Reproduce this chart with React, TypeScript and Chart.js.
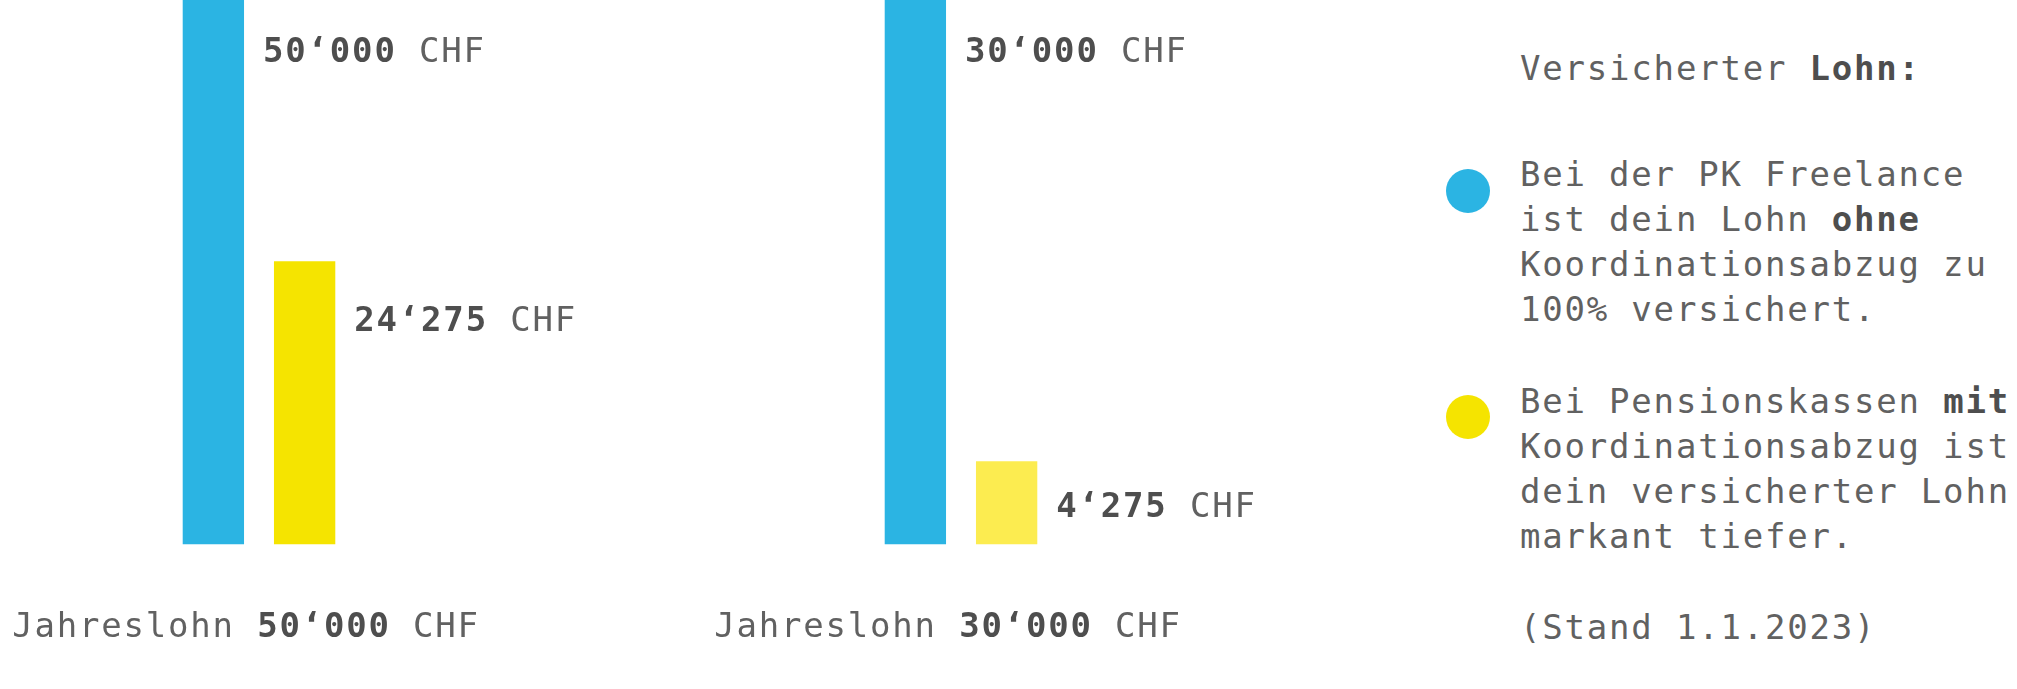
import React, { useEffect, useRef } from "react";
import { Chart, registerables } from "chart.js";

Chart.register(...registerables);

// ---- data ----
const panelNames = ["Jahreslohn", "Jahreslohn"];
const annualSalary = [50000, 30000];
const insuredPKFreelance = [50000, 30000];
const insuredWithCoordination = [24275, 4275];
const currencyLabel = "CHF";

const BLUE = "#2bb4e3";
const YELLOWS = ["#f5e400", "#fcec50"];
const TEXT = "#616161";
const TEXT_BOLD = "#4e4e4e";
const FONT_FAMILY = '"DejaVu Sans Mono", monospace';
const FONT_SIZE = 34;
const LETTER_SPACING = "1.8px";

function fmt(v: number): string {
  return String(Math.round(v)).replace(/\B(?=(\d{3})+(?!\d))/g, "\u2018");
}

type Seg = [string, boolean];

function drawRich(ctx: CanvasRenderingContext2D, segs: Seg[], x: number, y: number, align: "left" | "center") {
  const widths = segs.map(([t, b]) => {
    ctx.font = `${b ? "bold " : ""}${FONT_SIZE}px ${FONT_FAMILY}`;
    return ctx.measureText(t).width;
  });
  const total = widths.reduce((a, b) => a + b, 0);
  let cx = align === "center" ? x - total / 2 : x;
  ctx.textAlign = "left";
  ctx.textBaseline = "alphabetic";
  segs.forEach(([t, b], i) => {
    ctx.font = `${b ? "bold " : ""}${FONT_SIZE}px ${FONT_FAMILY}`;
    ctx.fillStyle = b ? TEXT_BOLD : TEXT;
    ctx.fillText(t, cx, y);
    cx += widths[i];
  });
}

const labelPlugin = {
  id: "richLabels",
  afterDatasetsDraw(chart: any) {
    const ctx: CanvasRenderingContext2D = chart.ctx;
    const area = chart.chartArea;
    const idx: number = chart.options.plugins.richLabels.panel;
    ctx.save();
    try {
      (ctx as any).letterSpacing = LETTER_SPACING;
    } catch (e) {}
    chart.data.datasets.forEach((ds: any, di: number) => {
      const meta = chart.getDatasetMeta(di);
      meta.data.forEach((bar: any, i: number) => {
        const v = ds.data[i];
        const p = bar.getProps(["x", "y", "base", "width"], true);
        const right = p.x + p.width / 2;
        let by = p.y + 70;
        by = Math.max(by, area.top + 101);
        by = Math.min(by, p.base - 28);
        drawRich(ctx, [[fmt(v), true], [" " + currencyLabel, false]], right + 19, by, "left");
      });
    });
    const xs = chart.scales.x;
    chart.data.labels.forEach((_: any, i: number) => {
      const cx = xs.getPixelForValue(i);
      drawRich(
        ctx,
        [
          [panelNames[idx] + " ", false],
          [fmt(annualSalary[idx]), true],
          [" " + currencyLabel, false],
        ],
        cx - 13,
        area.bottom + 92.5,
        "center"
      );
    });
    ctx.restore();
  },
};

function Panel({ index, left }: { index: number; left: number }) {
  const ref = useRef<HTMLCanvasElement | null>(null);
  useEffect(() => {
    if (!ref.current) return;
    const chart = new Chart(ref.current, {
      type: "bar",
      data: {
        labels: [panelNames[index] + " " + fmt(annualSalary[index]) + " " + currencyLabel],
        datasets: [
          {
            label: "PK Freelance",
            data: [insuredPKFreelance[index]],
            backgroundColor: BLUE,
            borderWidth: 0,
          },
          {
            label: "Mit Koordinationsabzug",
            data: [insuredWithCoordination[index]],
            backgroundColor: YELLOWS[index],
            borderWidth: 0,
          },
        ],
      },
      options: {
        animation: false,
        responsive: true,
        maintainAspectRatio: false,
        events: [],
        layout: { padding: { left: 0, right: 180, top: 21, bottom: 144.5 } },
        datasets: { bar: { categoryPercentage: 0.351, barPercentage: 0.672 } },
        scales: {
          x: { display: false, grid: { display: false } },
          y: {
            display: false,
            min: 0,
            max: Math.max(insuredPKFreelance[index], insuredWithCoordination[index]),
            grid: { display: false },
          },
        },
        plugins: {
          legend: { display: false },
          tooltip: { enabled: false },
          title: { display: false },
          richLabels: { panel: index },
        } as any,
      },
      plugins: [labelPlugin],
    });
    return () => chart.destroy();
  }, [index]);
  return (
    <div style={{ position: "absolute", left, top: -60, width: 700, height: 749 }}>
      <canvas ref={ref} />
    </div>
  );
}

const textStyle: React.CSSProperties = {
  position: "absolute",
  left: 1520,
  fontFamily: FONT_FAMILY,
  fontSize: FONT_SIZE,
  letterSpacing: LETTER_SPACING,
  lineHeight: "45px",
  color: TEXT,
  whiteSpace: "pre",
  margin: 0,
};
const bold: React.CSSProperties = { fontWeight: "bold", color: TEXT_BOLD };

function Dot({ color, cy }: { color: string; cy: number }) {
  return (
    <div
      style={{
        position: "absolute",
        left: 1468 - 22,
        top: cy - 22,
        width: 44,
        height: 44,
        borderRadius: "50%",
        background: color,
      }}
    />
  );
}

export default function App() {
  useEffect(() => {
    document.body.style.margin = "0";
    document.body.style.overflow = "hidden";
    document.body.style.background = "#ffffff";
  }, []);
  return (
    <div style={{ position: "relative", width: 2017, height: 689, overflow: "hidden", background: "#fff" }}>
      <Panel index={0} left={-1} />
      <Panel index={1} left={701.4} />
      <div style={{ ...textStyle, top: 46 }}>
        Versicherter <span style={bold}>Lohn:</span>
      </div>
      <Dot color={BLUE} cy={191} />
      <div style={{ ...textStyle, top: 152.4 }}>
        Bei der PK Freelance{"\n"}ist dein Lohn <span style={bold}>ohne</span>{"\n"}Koordinationsabzug zu{"\n"}100% versichert.
      </div>
      <Dot color={YELLOWS[0]} cy={416.7} />
      <div style={{ ...textStyle, top: 379 }}>
        Bei Pensionskassen <span style={bold}>mit</span>{"\n"}Koordinationsabzug ist{"\n"}dein versicherter Lohn{"\n"}markant tiefer.
      </div>
      <div style={{ ...textStyle, top: 605 }}>(Stand 1.1.2023)</div>
    </div>
  );
}
